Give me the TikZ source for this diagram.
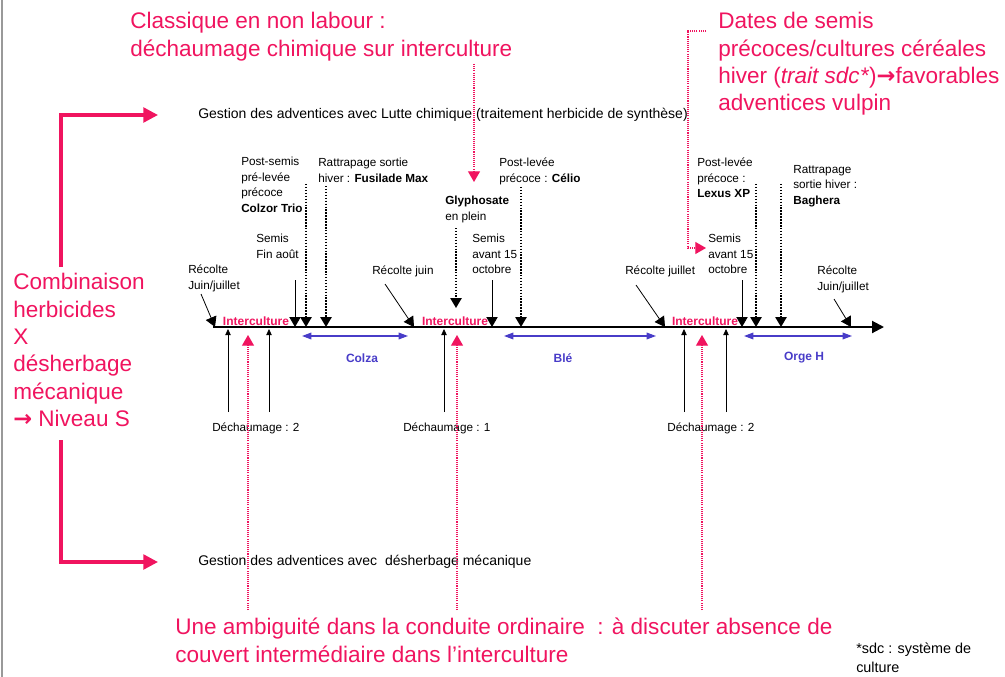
\documentclass[tikz,border=0pt]{standalone}
\usepackage{fontspec}
\setmainfont{Liberation Sans}
\newfontfamily\dvarrow{DejaVu Sans}
\usetikzlibrary{arrows.meta}
\definecolor{pk}{RGB}{240,20,95}
\definecolor{bl}{RGB}{72,60,200}
\tikzset{
  sm/.style={font=\fontsize{8.8}{11.6}\selectfont, align=left, inner sep=0pt, anchor=north west},
  gest/.style={font=\fontsize{10.5}{12}\selectfont, inner sep=0pt, anchor=west},
  big/.style={font=\fontsize{16.9}{20.6}\selectfont, text=pk, align=left, inner sep=0pt, anchor=north west},
  ic/.style={font=\fontsize{9}{10}\selectfont\bfseries, text=pk, inner sep=0pt},
  crop/.style={font=\fontsize{9}{10}\selectfont\bfseries, text=bl, inner sep=0pt},
  axisline/.style={line width=1.5pt, -{Triangle[width=9pt,length=9pt]}},
  solidtip/.style={line width=0.6pt, -{Triangle[width=8.5pt,length=7.5pt]}},
  dottip/.style={line width=1.3pt, dash pattern=on 1.1pt off 1.1pt, -{Triangle[width=8.5pt,length=7.5pt]}},
  upar/.style={line width=0.6pt, -{Triangle[width=4pt,length=4.5pt]}},
  pkdot/.style={pk, line width=0.8pt, dash pattern=on 0.8pt off 0.8pt, -{Triangle[width=9pt,length=8pt]}},
  blar/.style={bl, line width=0.9pt, {Triangle[width=5pt,length=7pt]}-{Triangle[width=5pt,length=7pt]}},
  redL/.style={pk, line width=2.5pt, -{Triangle[width=11pt,length=11pt]}}
}
\newcommand{\rarr}{{\dvarrow\bfseries →}}
\begin{document}
\begin{tikzpicture}[x=0.75pt,y=-0.75pt]
\useasboundingbox (0,0) rectangle (1005,677);
\draw[gray!80, line width=0.8pt] (2,0) -- (2,677);

% top red texts
\node[big] (classique) at (130,12) {Classique en non labour :\\déchaumage chimique sur interculture};
\node[big] (dates) at (718,12) {Dates de semis\\précoces/cultures céréales\\hiver (\textit{trait sdc*})\rarr favorables\\adventices vulpin};

% left text and L arrows
\node[big] (combi) at (13,273) {Combinaison\\herbicides\\X\\désherbage\\mécanique\\\rarr\ Niveau S};
\node[gest] (gchim) at (198,115) {Gestion des adventices avec Lutte chimique (traitement herbicide de synthèse)};
\node[gest] (gmeca) at (198,562) {Gestion des adventices avec~ désherbage mécanique};
\coordinate (Ltop) at (61,267);
\coordinate (Lbot) at (61,440);
\draw[redL] (Ltop) |- ([xshift=-30]gchim.west);
\draw[redL] (Lbot) |- ([xshift=-30]gmeca.west);

% axis
\coordinate (a0) at (213,327);
\coordinate (a1) at (884,327);
\draw[axisline] (a0) -- (a1);

% markers on axis
\coordinate (t1) at (215,327);
\coordinate (t2) at (295,327);
\coordinate (t3) at (306,327);
\coordinate (t4) at (326,327);
\coordinate (t5) at (414,327);
\coordinate (t6) at (492,327);
\coordinate (t7) at (521,327);
\coordinate (t8) at (665,327);
\coordinate (t9) at (742,327);
\coordinate (t10) at (756,327);
\coordinate (t11) at (781,327);
\coordinate (t12) at (851,327);

% labels above
\node[sm] (rec1) at (188,265) {Récolte\\Juin/juillet};
\node[sm] (semis1) at (256,234) {Semis\\Fin août};
\node[sm] (colzor) at (241,157) {Post-semis\\pré-levée\\précoce\\\textbf{Colzor Trio}};
\node[sm] (fusil) at (318,158) {Rattrapage sortie\\hiver : \textbf{Fusilade Max}};
\node[sm] (rec2) at (372,266) {Récolte juin};
\node[sm] (glypho) at (445,196) {\textbf{Glyphosate}\\en plein};
\node[sm] (semis2) at (472,234) {Semis\\avant 15\\octobre};
\node[sm] (celio) at (499,158) {Post-levée\\précoce : \textbf{Célio}};
\node[sm] (rec3) at (625,266) {Récolte juillet};
\node[sm] (lexus) at (697,158) {Post-levée\\précoce :\\\textbf{Lexus XP}};
\node[sm] (semis3) at (708,234) {Semis\\avant 15\\octobre};
\node[sm] (baghera) at (793,165) {Rattrapage\\sortie hiver :\\\textbf{Baghera}};
\node[sm] (rec4) at (817,266) {Récolte\\Juin/juillet};

% connectors to markers
\coordinate (s1) at (201,294);
\coordinate (s2) at (295,280);
\coordinate (s3) at (306,184);
\coordinate (s4) at (326,186);
\coordinate (s5) at (385,284);
\coordinate (s6) at (492,280);
\coordinate (s7) at (521,187);
\coordinate (s8) at (636,285);
\coordinate (s9) at (742,280);
\coordinate (s10) at (756,184);
\coordinate (s11) at (781,184);
\coordinate (s12) at (834,299);
\draw[solidtip] (s1) -- (t1);
\draw[solidtip] (s2) -- (t2);
\draw[dottip] (s3) -- (t3);
\draw[dottip] (s4) -- (t4);
\draw[solidtip] (s5) -- (t5);
\draw[solidtip] (s6) -- (t6);
\draw[dottip] (s7) -- (t7);
\draw[solidtip] (s8) -- (t8);
\draw[solidtip] (s9) -- (t9);
\draw[dottip] (s10) -- (t10);
\draw[dottip] (s11) -- (t11);
\draw[solidtip] (s12) -- (t12);
\coordinate (g0) at (456,228);
\coordinate (g1) at (456,308);
\draw[dottip] (g0) -- (g1);

% interculture
\node[ic] (ic1) at (256,321) {Interculture};
\node[ic] (ic2) at (455,321) {Interculture};
\node[ic] (ic3) at (705,321) {Interculture};

% crops
\coordinate (c1a) at (302,336); \coordinate (c1b) at (408,336);
\coordinate (c2a) at (504,336); \coordinate (c2b) at (656,336);
\coordinate (c3a) at (744,336); \coordinate (c3b) at (852,336);
\draw[blar] (c1a) -- (c1b);
\draw[blar] (c2a) -- (c2b);
\draw[blar] (c3a) -- (c3b);
\node[crop] (colza) at (362,358) {Colza};
\node[crop] (ble) at (563,358) {Blé};
\node[crop] (orge) at (804,358) {Orge H};

% dechaumage
\node[sm, anchor=west] (dech1) at (212,428) {Déchaumage : 2};
\node[sm, anchor=west] (dech2) at (403,428) {Déchaumage : 1};
\node[sm, anchor=west] (dech3) at (667,428) {Déchaumage : 2};
\coordinate (d1a) at (228,412); \coordinate (d1b) at (228,329);
\coordinate (d2a) at (269,412); \coordinate (d2b) at (269,329);
\coordinate (d3a) at (444,412); \coordinate (d3b) at (444,329);
\coordinate (d4a) at (684,412); \coordinate (d4b) at (684,329);
\coordinate (d5a) at (726,412); \coordinate (d5b) at (726,329);
\draw[upar] (d1a) -- (d1b);
\draw[upar] (d2a) -- (d2b);
\draw[upar] (d3a) -- (d3b);
\draw[upar] (d4a) -- (d4b);
\draw[upar] (d5a) -- (d5b);

% pink dotted from bottom
\coordinate (p1a) at (248,610); \coordinate (p1b) at (248,335);
\coordinate (p2a) at (457,610); \coordinate (p2b) at (457,335);
\coordinate (p3a) at (702,610); \coordinate (p3b) at (702,335);
\draw[pkdot] (p1a) -- (p1b);
\draw[pkdot] (p2a) -- (p2b);
\draw[pkdot] (p3a) -- (p3b);

% pink dotted from top texts
\coordinate (q0) at (474,64);
\coordinate (q1) at (474,182);
\draw[pkdot] (q0) -- (q1);
\coordinate (r0) at (706,31);
\coordinate (r1) at (706,248);
\draw[pkdot] (r0) -| (688,248) -- (r1);

% bottom texts
\node[big] (ambig) at (175,618) {Une ambiguité dans la conduite ordinaire~ : à discuter absence de\\couvert intermédiaire dans l'interculture};
\node[font=\fontsize{10.8}{14}\selectfont, align=left, inner sep=0pt, anchor=north west] (sdc) at (856,643) {*sdc : système de\\culture};
\end{tikzpicture}
\end{document}
